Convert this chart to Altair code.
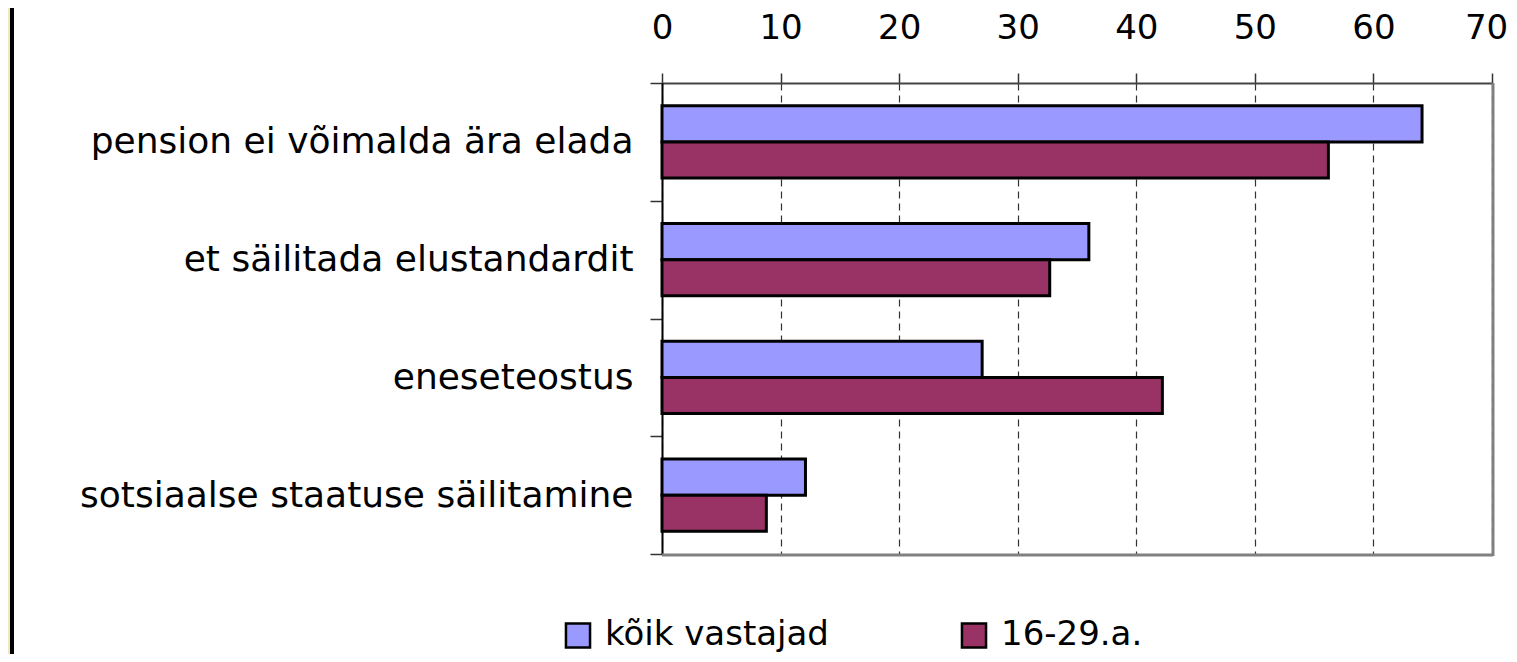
import altair as alt
import pandas as pd

categories = ["pension ei võimalda ära elada", "et säilitada elustandardit",
              "eneseteostus", "sotsiaalse staatuse säilitamine"]
series = ["kõik vastajad", "16-29.a."]
all_vals = [64.1, 36.0, 27.0, 12.1]
young_vals = [56.2, 32.7, 42.2, 8.8]
colors = ["#9999FF", "#993366"]
x_ticks = [0, 10, 20, 30, 40, 50, 60, 70]

rows = []
for c, v in zip(categories, all_vals):
    rows.append({"cat": c, "grp": series[0], "val": v})
for c, v in zip(categories, young_vals):
    rows.append({"cat": c, "grp": series[1], "val": v})
df = pd.DataFrame(rows)

W, H = 830, 471
FONT = "DejaVu Sans"

bars = alt.Chart(df).mark_bar(stroke="black", strokeWidth=3).encode(
    y=alt.Y("cat:N", sort=categories, title=None,
            scale=alt.Scale(paddingInner=0, paddingOuter=0),
            axis=alt.Axis(orient="left", tickBand="extent", tickSize=12,
                          tickColor="#333333", tickWidth=1.5,
                          domainColor="black", domainWidth=2,
                          labelFont=FONT, labelFontSize=36, labelColor="black",
                          labelPadding=17, labelLimit=800, grid=False)),
    yOffset=alt.YOffset("grp:N", sort=series,
                        scale=alt.Scale(paddingInner=0, paddingOuter=0.635)),
    x=alt.X("val:Q", title=None,
            scale=alt.Scale(domain=[0, 70], nice=False),
            axis=alt.Axis(orient="top", values=x_ticks, tickSize=10,
                          tickColor="#333333", tickWidth=1.5,
                          domainColor="#444444", domainWidth=2,
                          labelFont=FONT, labelFontSize=34, labelColor="black",
                          labelPadding=28, labelFlush=False, labelOverlap=False,
                          labelOffset={"condition": {"test": "datum.value == 70", "value": -6},
                                       "value": 0},
                          grid=True, gridColor="#333333",
                          gridDash=[7, 5], gridWidth=1.2)),
    color=alt.Color("grp:N", sort=series, title=None,
                    scale=alt.Scale(domain=series, range=colors),
                    legend=alt.Legend(orient="none", legendX=-101, legendY=535,
                                      direction="horizontal", symbolType="square",
                                      symbolSize=580, symbolStrokeColor="black",
                                      symbolStrokeWidth=2.5, labelFont=FONT,
                                      labelFontSize=34, labelColor="black",
                                      labelOffset=10, columnPadding=127,
                                      padding=0, labelLimit=600)),
)

deco = pd.DataFrame({"a": [0]})
bottom_rule = alt.Chart(deco).mark_rule(color="#808080", strokeWidth=3).encode(
    x=alt.value(0), x2=alt.value(W + 1), y=alt.value(H + 1))
right_rule = alt.Chart(deco).mark_rule(color="#808080", strokeWidth=3).encode(
    x=alt.value(W + 1), y=alt.value(0), y2=alt.value(H + 2))
strip = alt.Chart(deco).mark_rect(color="#F5E4C0").encode(
    x=alt.value(-662), x2=alt.value(-652), y=alt.value(-90), y2=alt.value(H + 130))
strip_line = alt.Chart(deco).mark_rule(color="black", strokeWidth=4).encode(
    x=alt.value(-650), y=alt.value(-90), y2=alt.value(H + 130))

chart = alt.layer(strip, strip_line, bars, bottom_rule, right_rule).properties(
    width=W, height=H,
    autosize=alt.AutoSizeParams(type="none"),
    padding={"left": 654, "top": 75, "right": 17, "bottom": 100},
).configure_view(stroke=None).configure(background="white")

chart.save("out.html", embed_options={"renderer": "svg", "actions": False})
